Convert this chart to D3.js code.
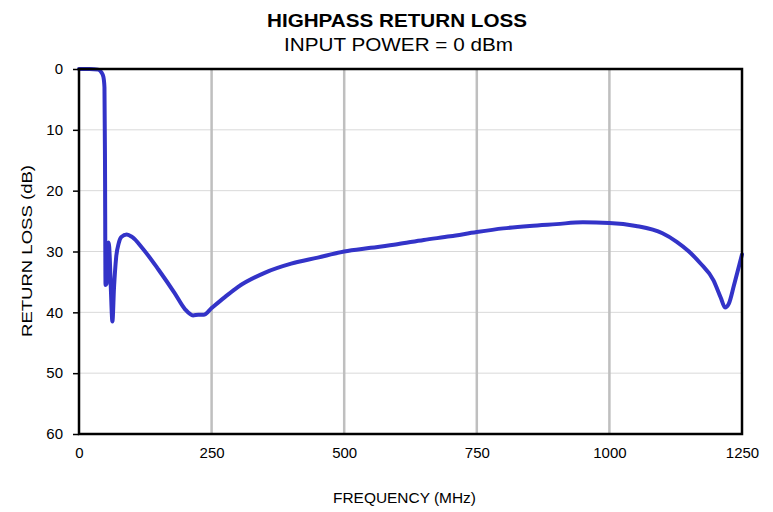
<!DOCTYPE html>
<html><head><meta charset="utf-8">
<script src="https://cdn.jsdelivr.net/npm/d3@7"></script>
<style>body{margin:0;background:#fff}svg{display:block;font-family:"Liberation Sans",Arial,sans-serif}</style>
</head><body><svg id="c" width="773" height="512"></svg>
<script>
const freqMHz = [0,20,36,42,46,48,49,50,52,54,56,58,60,63,66,70,75,80,90,100,120,150,180,200,215,225,235,250,275,300,350,400,450,500,550,600,650,700,750,800,850,900,950,1000,1050,1100,1127,1150,1171,1196,1210,1218,1225,1235,1250];
const returnLossDb = [0,0,0.1,0.5,1.3,3,15,35.5,35.3,33,28.5,31,36,41.5,36,31,28.6,27.6,27.2,27.6,29.5,33,36.8,39.5,40.5,40.4,40.4,39.3,37.5,35.8,33.5,32,31,30,29.4,28.8,28.1,27.5,26.8,26.2,25.8,25.5,25.2,25.3,25.8,27.0,28.4,30.0,31.9,34.7,37.6,39.2,38.6,35.5,30.5];
const xTicks = [0,250,500,750,1000,1250];
const yTicks = [0,10,20,30,40,50,60];
const titleText = "HIGHPASS RETURN LOSS";
const subtitleText = "INPUT POWER = 0 dBm";
const xLabel = "FREQUENCY (MHz)";
const yLabel = "RETURN LOSS (dB)";

const svg = d3.select("#c");
const L=79,R=742,T=69,B=434;
const x = d3.scaleLinear().domain([0,1250]).range([L,R]);
const y = d3.scaleLinear().domain([0,60]).range([T,B]);

svg.append("g").selectAll("line").data(yTicks.slice(1,-1)).join("line")
  .attr("x1",L).attr("x2",R).attr("y1",d=>y(d)).attr("y2",d=>y(d))
  .attr("stroke","#d9d9d9").attr("stroke-width",1);
svg.append("g").selectAll("line").data(xTicks.slice(1,-1)).join("line")
  .attr("x1",d=>x(d)).attr("x2",d=>x(d)).attr("y1",T).attr("y2",B)
  .attr("stroke","#bfbfbf").attr("stroke-width",2.5);

const line = d3.line().x((d,i)=>x(freqMHz[i])).y(d=>y(d)).curve(d3.curveMonotoneX);
svg.append("path").datum(returnLossDb).attr("d",line)
  .attr("fill","none").attr("stroke","#3333c8").attr("stroke-width",4)
  .attr("stroke-linejoin","round").attr("stroke-linecap","round");

svg.append("rect").attr("x",L).attr("y",T).attr("width",R-L).attr("height",B-T)
  .attr("fill","none").attr("stroke","#000").attr("stroke-width",2.5);

const yAxis = svg.append("g").attr("transform",`translate(${L},0)`)
  .call(d3.axisLeft(y).tickValues(yTicks).tickSize(6).tickPadding(10));
yAxis.select(".domain").remove();
yAxis.selectAll("line").attr("stroke","#000").attr("stroke-width",1.5);
yAxis.selectAll("text").attr("font-size",15).attr("fill","#000").attr("font-family","Liberation Sans, Arial, sans-serif");

const xAxis = svg.append("g").attr("transform",`translate(0,${B})`)
  .call(d3.axisBottom(x).tickValues(xTicks).tickFormat(d3.format("d")).tickSize(0).tickPadding(13));
xAxis.select(".domain").remove();
xAxis.selectAll("text").attr("font-size",15).attr("fill","#000").attr("font-family","Liberation Sans, Arial, sans-serif");

svg.append("text").attr("x",397).attr("y",27).attr("text-anchor","middle")
  .attr("font-size",18).attr("font-weight","bold")
  .attr("textLength",260).attr("lengthAdjust","spacingAndGlyphs").text(titleText);
svg.append("text").attr("x",398.5).attr("y",51).attr("text-anchor","middle")
  .attr("font-size",18).attr("textLength",229).attr("lengthAdjust","spacingAndGlyphs").text(subtitleText);
svg.append("text").attr("x",404.5).attr("y",503).attr("text-anchor","middle")
  .attr("font-size",15.5).attr("textLength",143).attr("lengthAdjust","spacingAndGlyphs").text(xLabel);
svg.append("text").attr("transform","translate(32,251) rotate(-90)").attr("text-anchor","middle")
  .attr("font-size",15).attr("textLength",172).attr("lengthAdjust","spacingAndGlyphs").text(yLabel);
</script></body></html>
